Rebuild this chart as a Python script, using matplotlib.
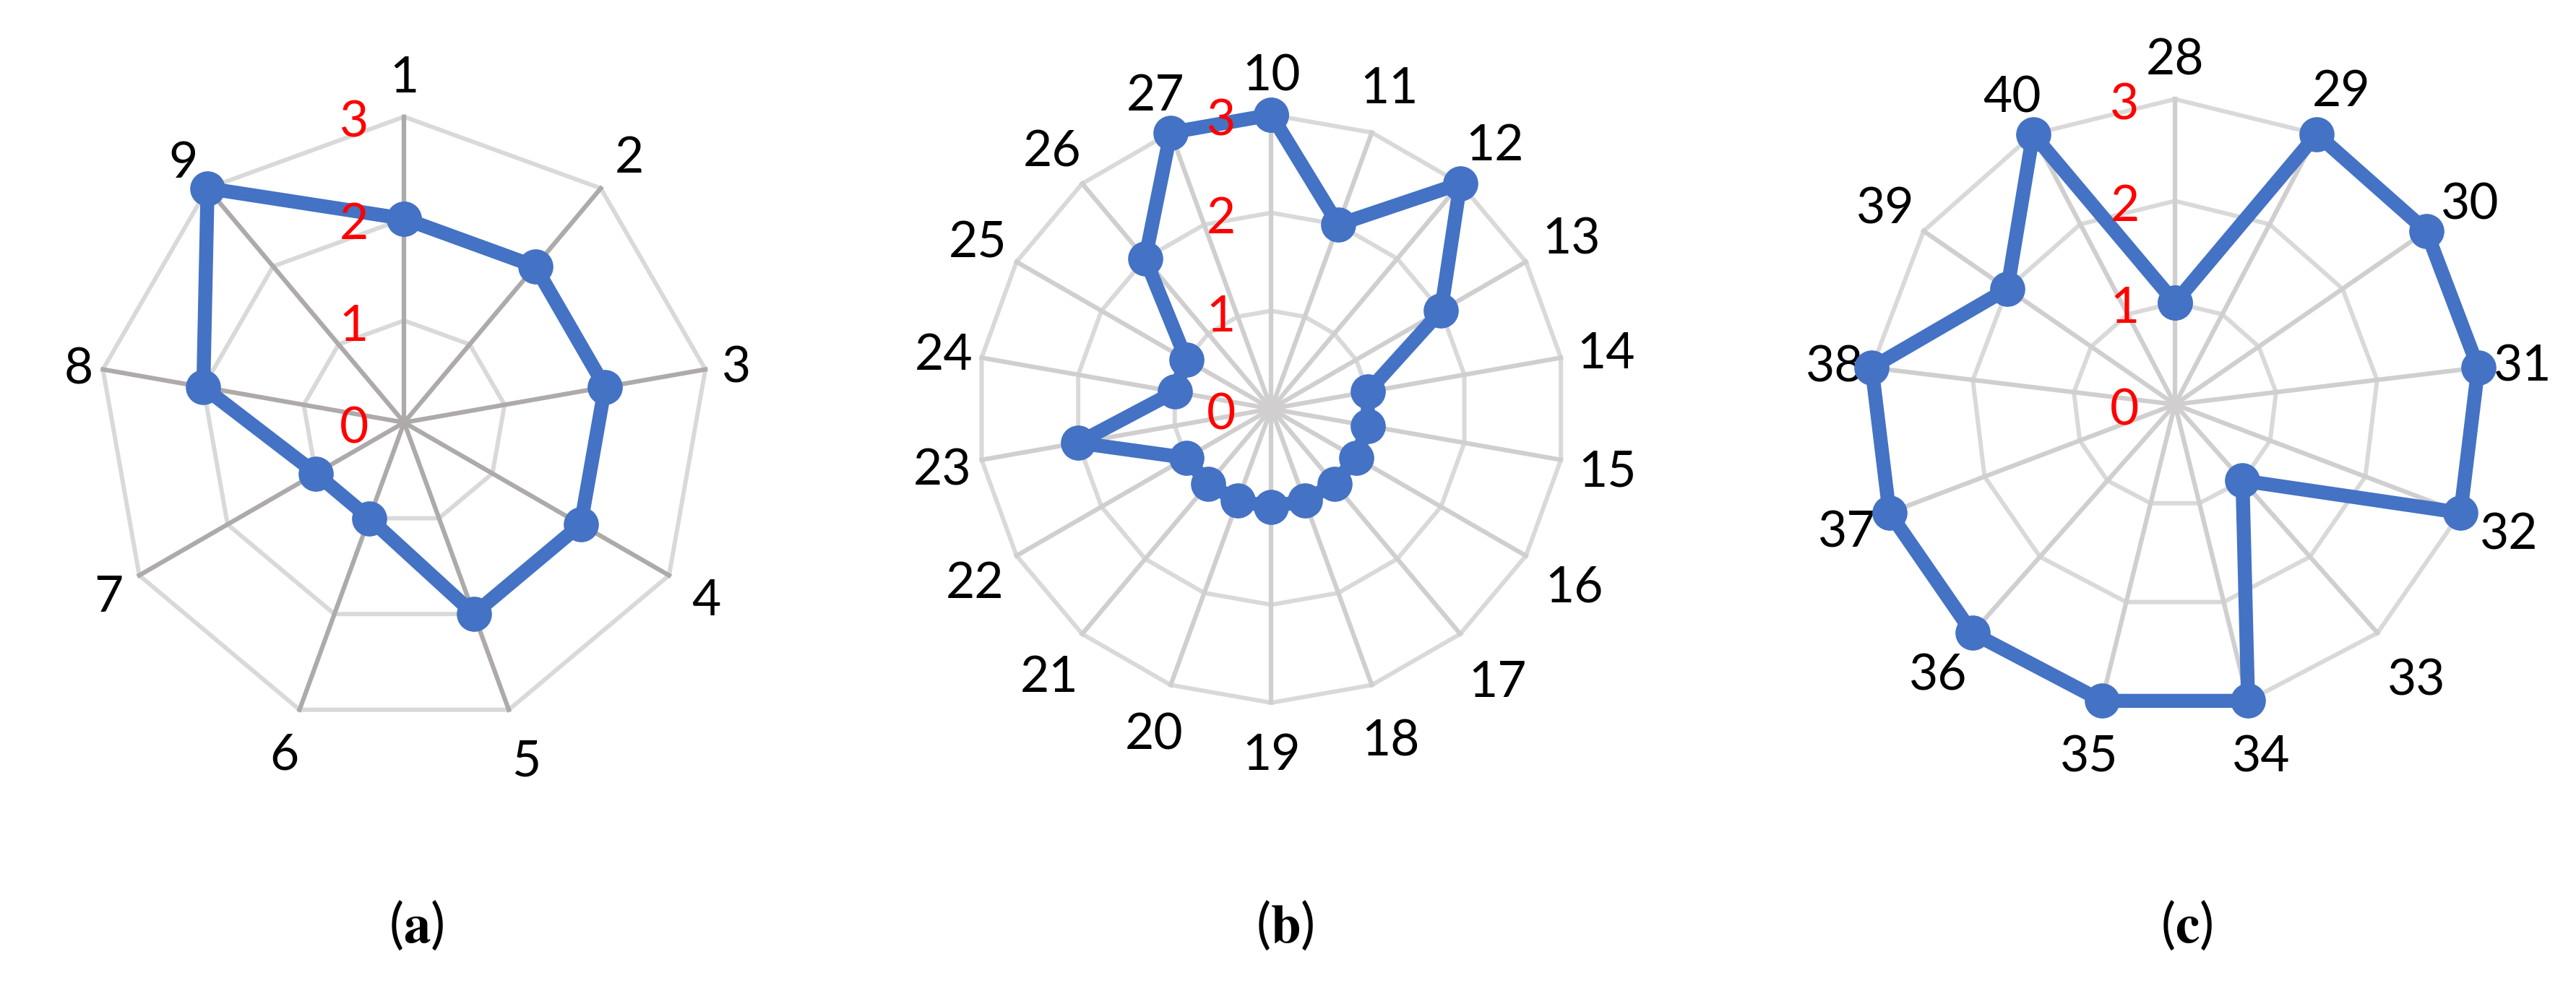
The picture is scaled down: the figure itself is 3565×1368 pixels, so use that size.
import matplotlib
matplotlib.use("Agg")
import matplotlib.pyplot as plt
import numpy as np

# data
labels_a = [str(i) for i in range(1, 10)]
values_a = [2, 2, 2, 2, 2, 1, 1, 2, 3]

labels_b = [str(i) for i in range(10, 28)]
values_b = [3, 2, 3, 2, 1, 1, 1, 1, 1, 1, 1, 1, 1, 2, 1, 1, 2, 3]

labels_c = [str(i) for i in range(28, 41)]
values_c = [1, 3, 3, 3, 3, 1, 3, 3, 3, 3, 3, 2, 3]

ring_levels = [0, 1, 2, 3]
captions = ["a", "b", "c"]

plt.rcParams['font.family'] = ['Lato', 'DejaVu Sans']
plt.rcParams['mathtext.fontset'] = 'stix'

BLUE = '#4472C4'
RING = '#D9D9D9'
PX = 72 / 100  # points per pixel at dpi 100


def radar(ax, labels, values, spoke_color):
    n = len(labels)
    theta = np.arange(n) * 2 * np.pi / n
    ax.set_theta_zero_location('N')
    ax.set_theta_direction(-1)
    ax.set_ylim(0, 3)
    ax.grid(False)
    ax.set_xticks([])
    ax.set_yticks([])
    ax.spines['polar'].set_visible(False)
    ax.patch.set_visible(False)

    # polygon rings
    closed = np.append(theta, theta[0])
    for lev in ring_levels[1:]:
        ax.plot(closed, [lev] * len(closed), color=RING, lw=4.3, zorder=1,
                clip_on=False)
    # spokes
    for t in theta:
        ax.plot([t, t], [0, 3], color=spoke_color, lw=4.5, zorder=2,
                clip_on=False)

    # data
    vals = list(values) + [values[0]]
    ax.plot(closed, vals, color=BLUE, lw=14, marker='o', ms=34,
            solid_joinstyle='round', zorder=5, clip_on=False)

    # category labels, pushed out from the outer ring like Excel does
    for t, lab in zip(theta, labels):
        s, c = np.sin(t), np.cos(t)
        d = 17 + abs(c) * (42 + (8 if c < 0 else 0)) + abs(s) * 20 * len(lab)
        if s < -0.3:
            d -= 10
        ax.annotate(lab, xy=(t, 3), xytext=(d * s * PX, d * c * PX),
                    textcoords='offset points', ha='center',
                    va='center_baseline', fontsize=50, color='black',
                    annotation_clip=False)

    # red ring values, left of the top spoke
    for lev in ring_levels:
        ax.annotate(str(lev), xy=(0, lev), xytext=(-50, -2),
                    textcoords='offset points', ha='center',
                    va='center_baseline', fontsize=50, color='red', zorder=6,
                    annotation_clip=False)


fig = plt.figure(figsize=(35.65, 13.68), dpi=100)

ax_a = fig.add_axes([0.03815, 0.26294, 0.23748, 0.61886], projection='polar')
ax_b = fig.add_axes([0.37933, 0.28874, 0.22833, 0.59503], projection='polar')
ax_c = fig.add_axes([0.72575, 0.28165, 0.23714, 0.61798], projection='polar')

radar(ax_a, labels_a, values_a, '#AEAAAA')
radar(ax_b, labels_b, values_b, '#D0CECE')
radar(ax_c, labels_c, values_c, '#D0CECE')

caption_x = [576 / 3565, 1778 / 3565, 3026 / 3565]
for x, c in zip(caption_x, captions):
    fig.text(x, 1 - 1281 / 1368, r'($\mathbf{' + c + '}$)', ha='center',
             va='center', fontsize=54)

fig.savefig('out.png', dpi=100, facecolor='white')
